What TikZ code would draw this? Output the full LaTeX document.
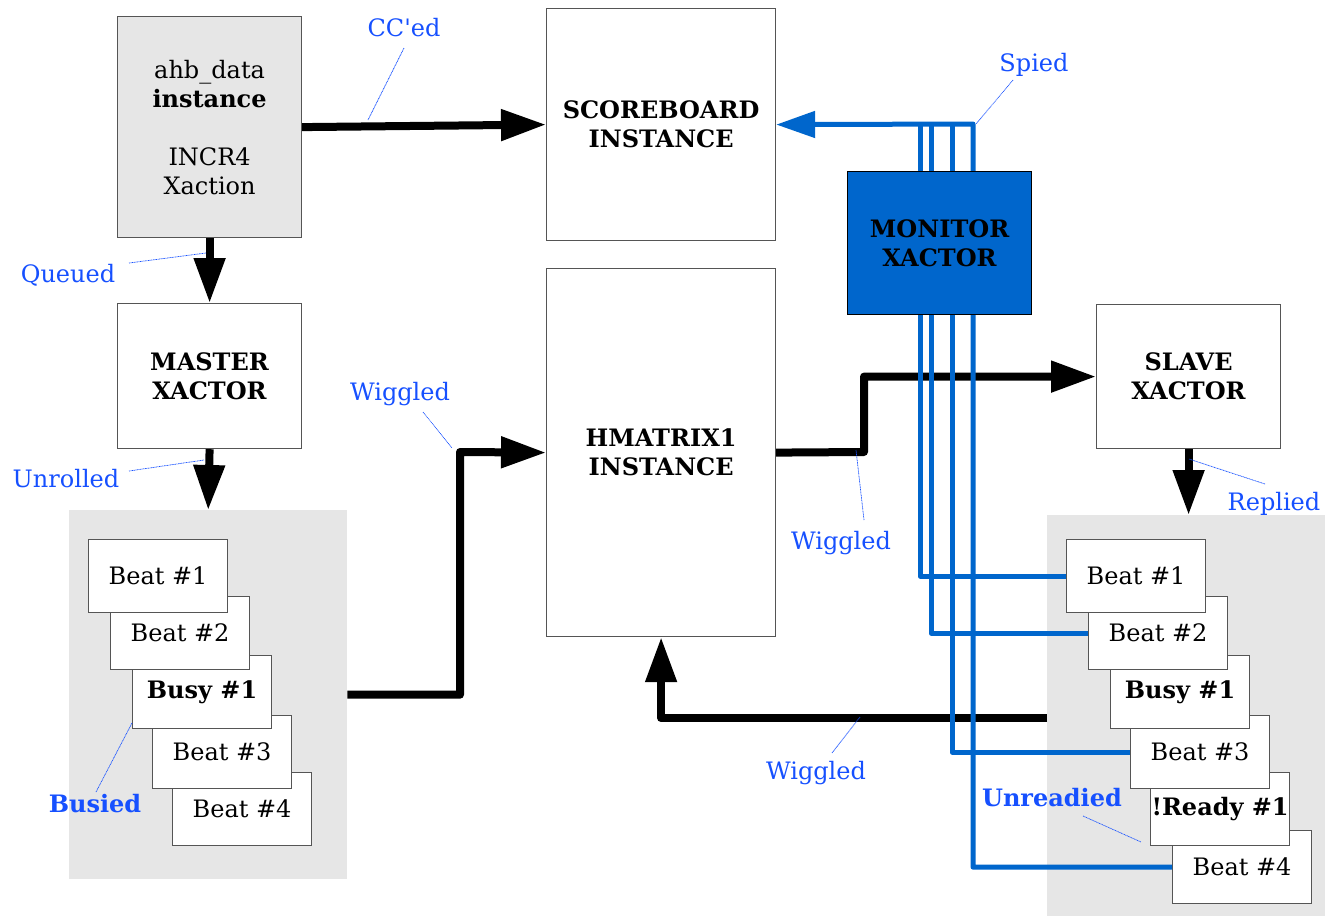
\documentclass[tikz,border=0pt]{standalone}
\usepackage{fontspec}
\setmainfont{DejaVu Serif}
\usetikzlibrary{arrows.meta,calc}
\definecolor{lblue}{HTML}{1650FF}
\definecolor{wblue}{HTML}{0066CC}
\definecolor{pgray}{HTML}{E6E6E6}
\definecolor{bgray}{HTML}{555555}
\begin{document}
\begin{tikzpicture}[x=1pt,y=-1pt,
  every node/.style={font=\fontsize{24}{29}\selectfont},
  box/.style={draw=bgray,line width=1.2pt,fill=white,align=center,inner sep=0pt,anchor=north west},
  beatbox/.style={box,minimum width=139pt,minimum height=73pt},
  panel/.style={fill=pgray,draw=none,inner sep=0pt,anchor=north west},
  conn/.style={line width=8pt,line join=round,-{Triangle[length=45pt,width=30pt]}},
  wire/.style={draw=wblue,line width=5pt,line join=round},
  lab/.style={text=lblue,inner sep=0pt},
  leader/.style={draw=lblue,line width=0.7pt,dash pattern=on 1pt off 0.6pt}
]
\useasboundingbox (0,0) rectangle (1325,916);

% panels
\node[panel,minimum width=278pt,minimum height=369pt] (lpanel) at (69,510) {};
\node[panel,minimum width=278pt,minimum height=401pt] (rpanel) at (1047,515) {};

% main boxes
\node[box,fill=pgray,minimum width=184pt,minimum height=221pt] (ahb) at (117,16)
  {ahb\_data\\\textbf{instance}\\~\\INCR4\\Xaction};
\node[box,minimum width=229pt,minimum height=232pt] (score) at (546,8)
  {\textbf{SCOREBOARD}\\\textbf{INSTANCE}};
\node[box,minimum width=184pt,minimum height=145pt] (master) at (117,303)
  {\textbf{MASTER}\\\textbf{XACTOR}};
\node[box,minimum width=229pt,minimum height=368pt] (hmatrix) at (546,268)
  {\textbf{HMATRIX1}\\\textbf{INSTANCE}};
\node[box,minimum width=184pt,minimum height=144pt] (slave) at (1096,304)
  {\textbf{SLAVE}\\\textbf{XACTOR}};

% left beat stack (earlier ones on top)
\node[beatbox] (lb5) at (172,772) {Beat \#4};
\node[beatbox] (lb4) at (152,715) {Beat \#3};
\node[beatbox] (lb3) at (132,655) {\textbf{Busy \#1}};
\node[beatbox] (lb2) at (110,596) {Beat \#2};
\node[beatbox] (lb1) at (88,539) {Beat \#1};

% right beat stack
\node[beatbox] (rb6) at (1172,830) {Beat \#4};
\node[beatbox] (rb5) at (1150,772) {\textbf{!Ready \#1}};
\node[beatbox] (rb4) at (1130,715) {Beat \#3};
\node[beatbox] (rb3) at (1110,655) {\textbf{Busy \#1}};
\node[beatbox] (rb2) at (1088,596) {Beat \#2};
\node[beatbox] (rb1) at (1066,539) {Beat \#1};

% black connectors
\coordinate (j1) at (460,452);
\coordinate (j2) at (864,452);
\coordinate (j3) at (660,718);
\draw[conn] (ahb.east) -- (score.west);
\draw[conn] (ahb.south) -- (master.north);
\draw[conn] (master.south) -- (lpanel.north);
\draw[conn] (lpanel.east) -| (j1) -- (hmatrix.west);
\draw[conn] (hmatrix.east) -- (j2) |- (slave.west);
\draw[conn] (slave.south) -- (slave.south |- rpanel.north);
\draw[conn] (j3 -| rpanel.west) -- (j3 -| hmatrix.south) -- (hmatrix.south);

% blue monitor wires
\coordinate (v1) at (920,124);
\coordinate (v2) at (931,124);
\coordinate (v3) at (952,124);
\coordinate (v4) at (973,124);
\draw[wire] (rb1.west) -| (v1);
\draw[wire] (rb2.west) -| (v2);
\draw[wire] (rb4.west) -| (v3);
\draw[wire,-{Triangle[length=39pt,width=26pt]}] (rb6.west) -| (v4) -- (score.east);

\node[box,fill=wblue,draw=black,minimum width=184pt,minimum height=143pt] (monitor) at (847,171)
  {\textbf{MONITOR}\\\textbf{XACTOR}};

% labels
\node[lab] (lcc) at (404,28) {CC\textquotesingle ed};
\node[lab] (lqu) at (68,275) {Queued};
\node[lab] (lun) at (66,479) {Unrolled};
\node[lab] (lw1) at (400,394) {Wiggled};
\node[lab] (lsp) at (1034,65) {Spied};
\node[lab] (lw2) at (841,543) {Wiggled};
\node[lab] (lre) at (1274,504) {Replied};
\node[lab] (lw3) at (816,773) {Wiggled};
\node[lab] (lbu) at (95,804) {\textbf{Busied}};
\node[lab] (lur) at (1052,798) {\textbf{Unreadied}};

\draw[leader] (404,48) -- (368,120);
\draw[leader] (129,263) -- (206,253);
\draw[leader] (129,471) -- (204,460);
\draw[leader] (423,412) -- (452,448);
\draw[leader] (1013,80) -- (976,124);
\draw[leader] (864,520) -- (856,450);
\draw[leader] (1265,484) -- (1189,459);
\draw[leader] (832,753) -- (860,717);
\draw[leader] (96,792) -- (132,723);
\draw[leader] (1083,816) -- (1141,842);
\end{tikzpicture}
\end{document}
